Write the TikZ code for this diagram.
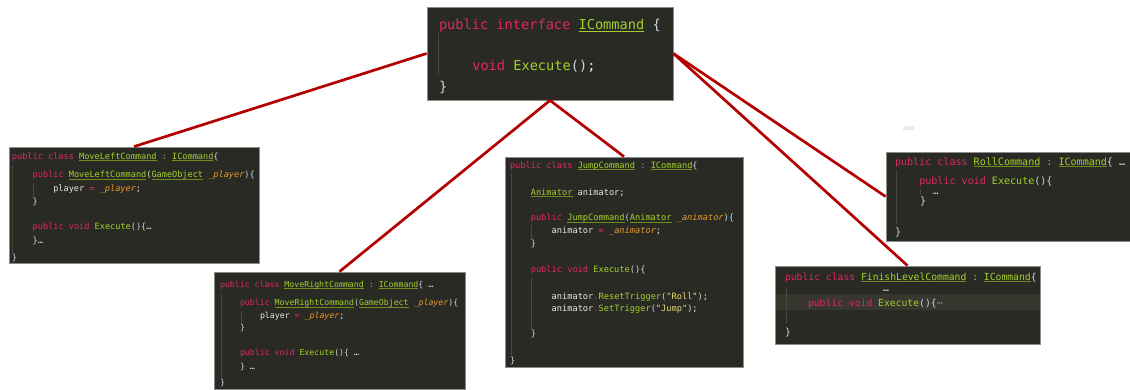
\documentclass[tikz,border=0pt]{standalone}
\usepackage{fontspec}
\setmonofont{DejaVu Sans Mono}

% editor palette
\definecolor{codebg}{HTML}{2A2A24}
\definecolor{boxline}{HTML}{8C8C8C}
\definecolor{foldbg}{HTML}{37372F}
\definecolor{guide}{HTML}{48483F}
\definecolor{ckw}{HTML}{E0266A}
\definecolor{cgreen}{HTML}{A2D12E}
\definecolor{culg}{HTML}{6F8C1E}
\definecolor{ctxt}{HTML}{E8E8E8}
\definecolor{cprm}{HTML}{E99A2C}
\definecolor{cbr}{HTML}{C9D6E3}
\definecolor{cpu}{HTML}{9A9A9A}
\definecolor{cstr}{HTML}{E6DB74}
\definecolor{cfold}{HTML}{8A8A8A}
\definecolor{linkred}{HTML}{B30000}

% syntax colouring helpers
\newcommand\kw[1]{\textcolor{ckw}{#1}}
\newcommand\fn[1]{\textcolor{cgreen}{#1}}
\newcommand\br[1]{\textcolor{cbr}{#1}}
\newcommand\prm[1]{\textcolor{cprm}{\itshape #1}}
\newcommand\pu[1]{\textcolor{cpu}{#1}}
\newcommand\strg[1]{\textcolor{cstr}{#1}}
\newsavebox\tybox
\newcommand\ty[2][culg]{\sbox\tybox{#2}\rlap{\textcolor{#1}{\rule[-0.22em]{\wd\tybox}{0.08em}}}\textcolor{cgreen}{#2}}

\tikzset{
  codebox/.style={rectangle, draw=boxline, fill=codebg, line width=0.8pt, inner sep=0pt},
  codeline/.style={anchor=base west, inner sep=0pt, outer sep=0pt, text=ctxt,
                   font=\ttfamily\fontsize{#1}{#1}\selectfont},
  link/.style={draw=linkred, line width=2.7pt},
  guideline/.style={draw=guide, line width=0.6pt},
}

\begin{document}
\begin{tikzpicture}[x=1pt,y=-1pt]
\useasboundingbox (0,0) rectangle (1130,389);
\clip (0,0) rectangle (1130,389);

% code panels
\node[codebox, minimum width=246pt, minimum height=93pt]  (iface)  at (550,53.5) {};
\node[codebox, minimum width=250pt, minimum height=116pt] (left)   at (134,205) {};
\node[codebox, minimum width=251pt, minimum height=117pt] (right)  at (339.5,330.5) {};
\node[codebox, minimum width=238pt, minimum height=210pt] (jump)   at (624,262) {};
\node[codebox, minimum width=246pt, minimum height=89pt]  (roll)   at (1009,196.5) {};
\node[codebox, minimum width=265pt, minimum height=78pt]  (finish) at (907.5,305) {};

% links from the interface to its implementations
\draw[link] (iface.west)  -- (left.north);
\draw[link] (iface.south) -- (right.north);
\draw[link] (iface.south) -- (jump.north);
\draw[link] (iface.east)  -- (roll.west);
\draw[link] (iface.east)  -- (finish.north);

% folded-line highlight
\fill[foldbg] (776,294.3) rectangle (1039.5,310);

% indent guides
\draw[guideline] (438.3,33) -- (438.3,75);
\draw[guideline] (12.5,165) -- (12.5,252);
\draw[guideline] (33.5,183) -- (33.5,197);
\draw[guideline] (221,293) -- (221,378);
\draw[guideline] (241,311) -- (241,324);
\draw[guideline] (511,173) -- (511,355);
\draw[guideline] (531.5,225) -- (531.5,240);
\draw[guideline] (531.5,278) -- (531.5,330);
\draw[guideline] (896,170) -- (896,224);
\draw[guideline] (920,189) -- (920,195);
\draw[guideline] (786,288) -- (786,324);

% ICommand
\node[codeline=13.64] (t1) at (439,29.3) {\kw{public interface} \ty[cgreen]{ICommand} \br{\{}};
\node[codeline=13.64] (t2) at (472.3,70) {\kw{void} \fn{Execute}\br{()};};
\node[codeline=13.64] (t3) at (439,91) {\br{\}}};

% MoveLeftCommand
\node[codeline=8.58] (l1) at (12,159) {\kw{public class} \ty{MoveLeftCommand} \pu{:} \ty{ICommand}\br{\{}};
\node[codeline=8.58] (l2) at (32.7,177.5) {\kw{public} \ty{MoveLeftCommand}\br{(}\ty{GameObject} \prm{\_player}\br{)\{}};
\node[codeline=8.58] (l3) at (53.3,191) {player \kw{=} \prm{\_player};};
\node[codeline=8.58] (l4) at (32.7,204) {\br{\}}};
\node[codeline=8.58] (l5) at (32.7,229) {\kw{public void} \fn{Execute}\br{()\{}…};
\node[codeline=8.58] (l6) at (32.7,243) {\br{\}}…};
\node[codeline=8.58] (l7) at (12,260) {\br{\}}};

% MoveRightCommand
\node[codeline=8.24] (r1) at (220,287) {\kw{public class} \ty{MoveRightCommand} \pu{:} \ty{ICommand}\br{\{} …};
\node[codeline=8.24] (r2) at (240,305.5) {\kw{public} \ty{MoveRightCommand}\br{(}\ty{GameObject} \prm{\_player}\br{)\{}};
\node[codeline=8.24] (r3) at (260,318) {player \kw{=} \prm{\_player};};
\node[codeline=8.24] (r4) at (240,330.5) {\br{\}}};
\node[codeline=8.24] (r5) at (240,355) {\kw{public void} \fn{Execute}\br{()\{} …};
\node[codeline=8.24] (r6) at (240,369) {\br{\}} …};
\node[codeline=8.24] (r7) at (220,385) {\br{\}}};

% JumpCommand
\node[codeline=8.66] (j1) at (510,168) {\kw{public class} \ty{JumpCommand} \pu{:} \ty{ICommand}\br{\{}};
\node[codeline=8.66] (j2) at (530.8,195) {\ty{Animator} animator;};
\node[codeline=8.66] (j3) at (530.8,220.5) {\kw{public} \ty{JumpCommand}\br{(}\ty{Animator} \prm{\_animator}\br{)\{}};
\node[codeline=8.66] (j4) at (551.7,233.5) {animator \kw{=} \prm{\_animator};};
\node[codeline=8.66] (j5) at (530.8,246.5) {\br{\}}};
\node[codeline=8.66] (j6) at (530.8,272.5) {\kw{public void} \fn{Execute}\br{()\{}};
\node[codeline=8.66] (j7) at (551.7,299) {animator\kw{.}\fn{ResetTrigger}\br{(}\strg{"Roll"}\br{)};};
\node[codeline=8.66] (j8) at (551.7,311.5) {animator\kw{.}\fn{SetTrigger}\br{(}\strg{"Jump"}\br{)};};
\node[codeline=8.66] (j9) at (530.8,336.5) {\br{\}}};
\node[codeline=8.66] (j10) at (510,363) {\br{\}}};

% RollCommand
\node[codeline=10.06] (o1) at (895,165) {\kw{public class} \ty{RollCommand} \pu{:} \ty{ICommand}\br{\{} …};
\node[codeline=10.06] (o2) at (919.3,184.5) {\kw{public void} \fn{Execute}\br{()\{}};
\node[codeline=9] (o3) at (933,194) {…};
\node[codeline=10.06] (o4) at (920,204.5) {\br{\}}};
\node[codeline=10.06] (o5) at (895,235) {\br{\}}};

% FinishLevelCommand
\node[codeline=9.72] (f1) at (785,280) {\kw{public class} \ty{FinishLevelCommand} \pu{:} \ty{ICommand}\br{\{}};
\node[codeline=9.72] (f2) at (883,291) {…};
\node[codeline=9.72] (f3) at (808,306) {\kw{public void} \fn{Execute}\br{()\{}\textcolor{cfold}{⋯}};
\node[codeline=9.72] (f4) at (785,335) {\br{\}}};

% small marker above the RollCommand panel
\node[anchor=center, inner sep=0pt, text=gray!45, font=\ttfamily\fontsize{6.5}{6.5}\selectfont] (marker) at (909,129) {ooo};
\end{tikzpicture}
\end{document}
